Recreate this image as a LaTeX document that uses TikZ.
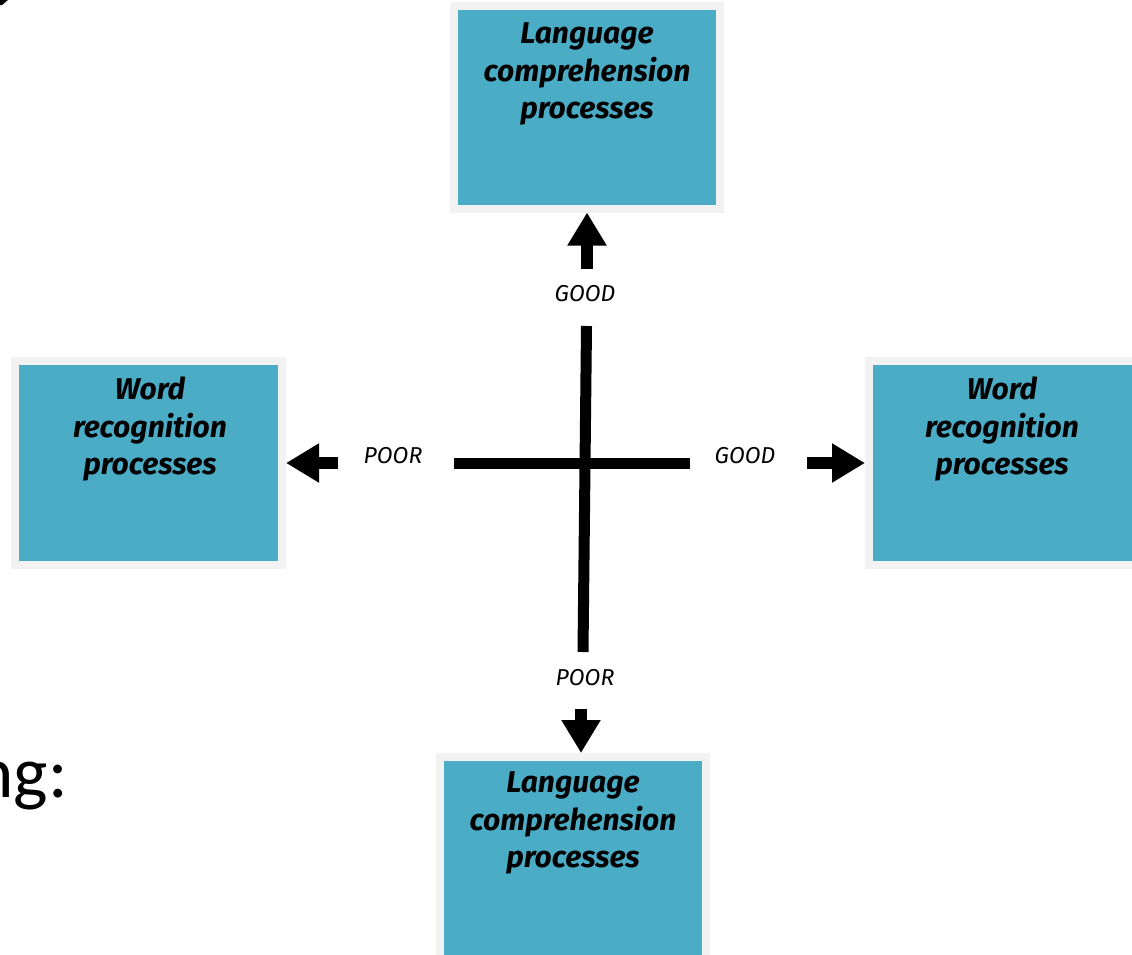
\documentclass[tikz,border=0pt]{standalone}
\usepackage{fontspec}
\setmainfont{Fira Sans}
\newfontfamily\bodyfont{Carlito}
\usetikzlibrary{arrows.meta}
\definecolor{boxteal}{HTML}{4BACC6}
\definecolor{boxframe}{HTML}{F2F2F2}
\tikzset{
  sticky/.style={draw=boxframe, fill=boxteal, line width=8pt, inner sep=0pt,
    minimum width=266pt, minimum height=203pt},
  boxtext/.style={align=center, inner sep=0pt,
    font=\fontsize{30}{37.5}\selectfont\bfseries\itshape},
  axislabel/.style={inner sep=0pt, font=\fontsize{23}{26}\selectfont\itshape},
  axisline/.style={line width=11pt, line cap=butt},
  bigarrow/.style={line width=12pt, line cap=butt, -{Triangle[length=33pt,width=37pt]}}
}
\begin{document}
\begin{tikzpicture}[x=1pt,y=-1pt]
\useasboundingbox (0,0) rectangle (1132,954);
\begin{scope}
\clip (0,0) rectangle (1132,954);
% boxes
\node[sticky] (top) at (587,107) {};
\node[sticky, minimum height=204pt, minimum width=267pt] (left) at (148.5,463) {};
\node[sticky, minimum height=204pt, minimum width=267pt] (right) at (1002.5,463) {};
\node[sticky, minimum height=204pt] (bottom) at (573,859) {};
% box texts
\node[boxtext] (toptext) at (587,74) {Language\\comprehension\\processes};
\node[boxtext] (lefttext) at (150,429) {Word\\recognition\\processes};
\node[boxtext] (righttext) at (1002,429) {Word\\recognition\\processes};
\node[boxtext] (bottomtext) at (573,823) {Language\\comprehension\\processes};
% axis
\coordinate (vtop) at (586.5,326);
\coordinate (vbot) at (583,652);
\coordinate (hleft) at (454,463);
\coordinate (hright) at (690,463);
\draw[axisline] (vtop) -- (vbot);
\draw[axisline] (hleft) -- (hright);
% labels
\node[axislabel] (goodup) at (585,294) {GOOD};
\node[axislabel] (poorleft) at (393,456) {POOR};
\node[axislabel] (goodright) at (745,456) {GOOD};
\node[axislabel] (poordown) at (585,678) {POOR};
% arrows
\coordinate (upstart) at (587,269);
\coordinate (leftstart) at (338,463);
\coordinate (rightstart) at (807,463);
\coordinate (downstart) at (581,709);
\draw[bigarrow] (upstart) -- (top.south);
\draw[bigarrow] (leftstart) -- (left.east);
\draw[bigarrow] (rightstart) -- (right.west);
\draw[bigarrow] (downstart) -- (581,753);
% cut-off slide text
\node[anchor=base east, inner sep=0pt, font=\bodyfont\fontsize{73}{80}\selectfont] (slidetext) at (68,797) {ng:};
\fill (0,0) -- (8,0) -- (2,5) -- (0,5) -- cycle;
\end{scope}
\end{tikzpicture}
\end{document}
